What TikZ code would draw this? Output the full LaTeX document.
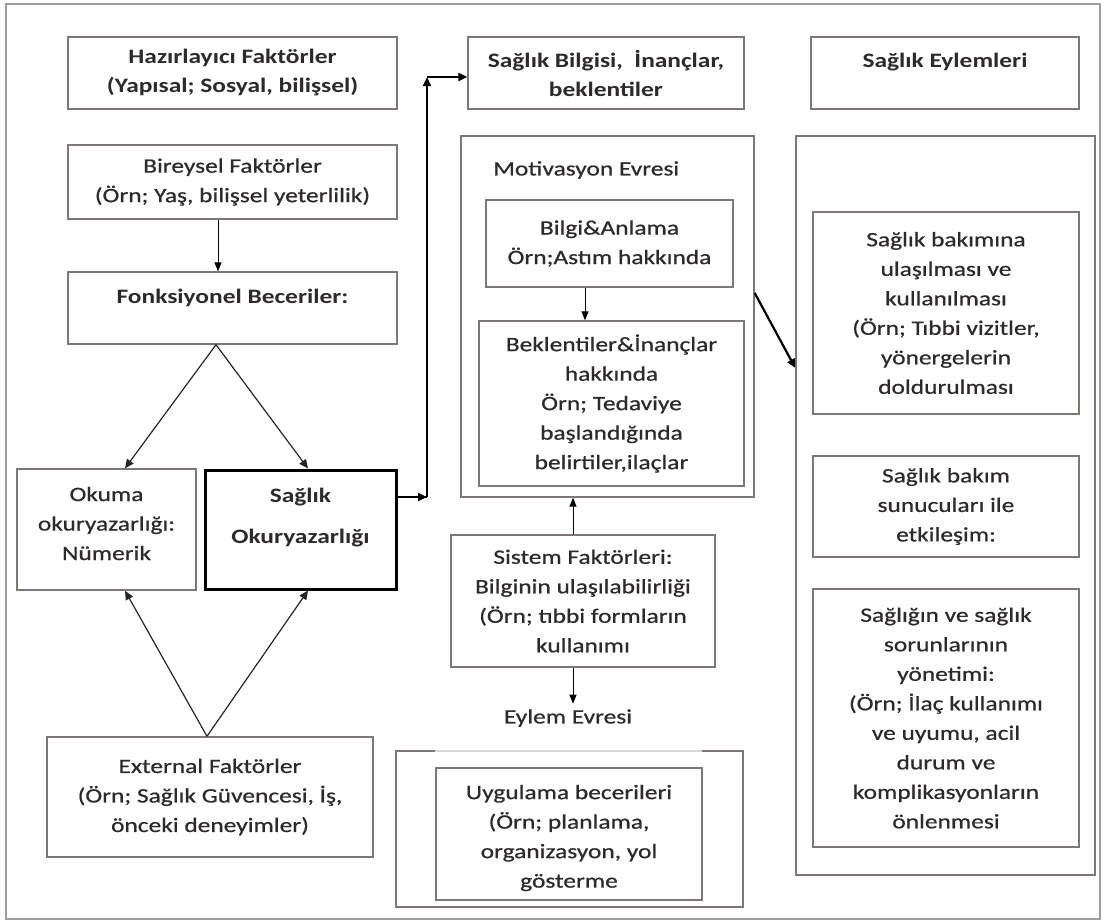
\documentclass[tikz,border=0pt]{standalone}
\usepackage{fontspec}
\setmainfont{Carlito}[FakeStretch=1.24, UprightFeatures={FakeBold=0.7}]
\usetikzlibrary{arrows.meta,calc}
\definecolor{bc}{HTML}{7F7676}
\definecolor{tc}{HTML}{2E2A2A}
\definecolor{fc}{HTML}{A09C9C}
\begin{document}
\begin{tikzpicture}[x=1pt,y=-1pt,
  box/.style={draw=bc, line width=1.4pt, align=center, inner sep=0pt, text=tc,
    font=\fontsize{20.5}{29.5}\selectfont},
  bbox/.style={box, font=\fontsize{20.5}{29}\selectfont\bfseries},
  txt/.style={inner sep=0pt, text=tc, align=center, font=\fontsize{20.5}{29.5}\selectfont},
  btxt/.style={txt, font=\fontsize{20.5}{29.5}\selectfont\bfseries},
  arr/.style={draw=black, line width=1pt, -{Triangle[length=9pt,width=7pt]}},
  tarr/.style={draw=black, line width=2.2pt, -{Triangle[length=9pt,width=8pt]}},
  darr/.style={draw=black!85, line width=1.2pt, -{Triangle[length=9pt,width=8pt]}}]
\useasboundingbox (0,0) rectangle (1105,922);
% outer frame
\draw[fc, line width=1.5pt] (6,4) rectangle (1100,919);

% left column
\node[bbox, minimum width=329pt, minimum height=72pt] (haz) at (232.5,73)
  {Hazırlayıcı Faktörler\\(Yapısal; Sosyal, bilişsel)};
\node[box, minimum width=329pt, minimum height=74pt] (bir) at (232.5,182)
  {Bireysel Faktörler\\(Örn; Yaş, bilişsel yeterlilik)};
\node[box, minimum width=329pt, minimum height=72pt] (fonk) at (232.5,308) {};
\node[btxt, anchor=north] (fonkt) at ([yshift=-18pt]fonk.north) {Fonksiyonel Beceriler:};
\node[box, minimum width=179pt, minimum height=121pt] (oku) at (106.5,529.5) {};
\node[txt] (okut) at ([yshift=6pt]oku.center) {Okuma\\okuryazarlığı:\\Nümerik};
\node[box, draw=black, line width=3pt, minimum width=191pt, minimum height=119pt] (sok) at (300.5,529.5) {};
\node[btxt] (sokt) at ([yshift=12pt]sok.center) {Sağlık\\[11pt]Okuryazarlığı};
\node[box, minimum width=326pt, minimum height=120pt] (ext) at (210,797)
  {External Faktörler\\(Örn; Sağlık Güvencesi, İş,\\önceki deneyimler)};

% middle column
\node[bbox, minimum width=276pt, minimum height=72pt] (bil) at (606,73)
  {Sağlık Bilgisi, \ İnançlar,\\beklentiler};
\node[box, minimum width=293pt, minimum height=361pt] (mot) at (607.5,316.5) {};
\node[txt, anchor=west] (motl) at (493,170) {Motivasyon Evresi};
\node[box, minimum width=247pt, minimum height=87pt] (ban) at (609.5,243.5)
  {Bilgi\&Anlama\\Örn;Astım hakkında};
\node[box, minimum width=265pt, minimum height=165pt] (bek) at (611.5,403.5)
  {Beklentiler\&İnançlar\\hakkında\\Örn; Tedaviye\\başlandığında\\belirtiler,ilaçlar};
\node[box, minimum width=264pt, minimum height=132pt] (sis) at (583,601)
  {Sistem Faktörleri:\\Bilginin ulaşılabilirliği\\(Örn; tıbbi formların\\kullanımı};
\node[txt] (eyl) at (568,718) {Eylem Evresi};
\node[box, minimum width=266pt, minimum height=132pt] (uyg) at (569,834) {};
\node[txt] (uygt) at ([yshift=-4pt]uyg.center)
  {Uygulama becerileri\\(Örn; planlama,\\organizasyon, yol\\gösterme};
% Eylem frame (top edge partly faint)
\draw[bc, line width=1.4pt] (435,751) -- (396,751) -- (396,907) -- (743,907) -- (743,751) -- (702,751);
\draw[bc!30, line width=1.4pt] (435,751) -- (702,751);

% right column
\node[box, minimum width=268pt, minimum height=72pt] (sey) at (945,73) {};
\node[btxt, anchor=north] (seyt) at ([yshift=-17pt]sey.north) {Sağlık Eylemleri};
\node[box, minimum width=299pt, minimum height=739pt] (rbox) at (945.5,505.5) {};
\node[box, minimum width=266pt, minimum height=202pt] (sb1) at (946,313)
  {Sağlık bakımına\\ulaşılması ve\\kullanılması\\(Örn; Tıbbi vizitler,\\yönergelerin\\doldurulması};
\node[box, minimum width=266pt, minimum height=101pt] (sb2) at (946,506.5)
  {Sağlık bakım\\sunucuları ile\\etkileşim:};
\node[box, minimum width=266pt, minimum height=258pt] (sb3) at (946,718)
  {Sağlığın ve sağlık\\sorunlarının\\yönetimi:\\(Örn; İlaç kullanımı\\ve uyumu, acil\\durum ve\\komplikasyonların\\önlenmesi};

% connectors
\draw[arr] ([xshift=-14.5pt]bir.south) -- ([xshift=-14.5pt]bir.south |- fonk.north);
\coordinate (apx) at ([xshift=-16.5pt]fonk.south);
\draw[darr] (apx) -- ([xshift=18.5pt]oku.north);
\draw[darr] (apx) -- ([xshift=7.5pt]sok.north);
\coordinate (apx2) at ([xshift=-3pt]ext.north);
\draw[darr] (apx2) -- ([xshift=18.5pt]oku.south);
\draw[darr] (apx2) -- ([xshift=7.5pt]sok.south);
\coordinate (c1) at (427,497);
\coordinate (c2) at (427,77);
\draw[tarr] ([yshift=32.5pt]sok.east) -- (c1);
\draw[line width=2.2pt] ([yshift=32.5pt]sok.east) -- (c1);
\draw[tarr] (c1) -- (c2);
\draw[tarr] (c2) -- (c2 -| bil.west);
\draw[arr] ([xshift=-24.5pt]ban.south) -- ([xshift=-24.5pt]ban.south |- bek.north);
\draw[arr] ([xshift=-10pt]sis.north) -- ([xshift=-10pt]sis.north |- mot.south);
\draw[arr] ([xshift=-10pt]sis.south) -- ([xshift=-10pt,yshift=-36pt]sis.south);
\draw[tarr] ([yshift=23.5pt]mot.east) -- ([yshift=137.5pt]rbox.west);
\end{tikzpicture}
\end{document}
